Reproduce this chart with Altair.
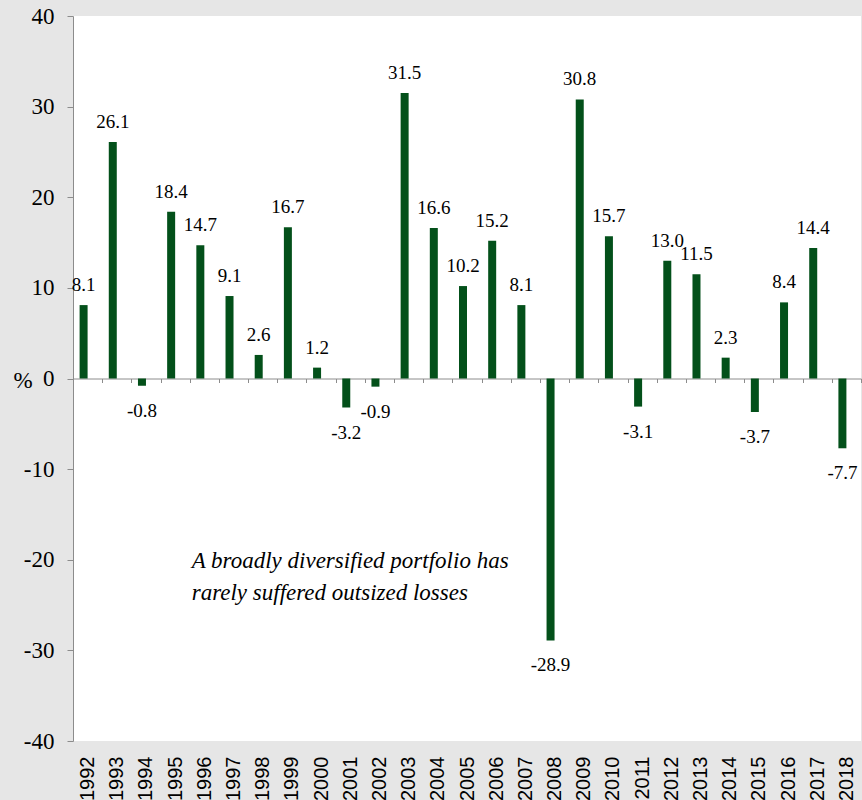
import altair as alt
import pandas as pd

years = [str(y) for y in range(1992, 2019)]
returns = [8.1, 26.1, -0.8, 18.4, 14.7, 9.1, 2.6, 16.7, 1.2, -3.2, -0.9, 31.5,
           16.6, 10.2, 15.2, 8.1, -28.9, 30.8, 15.7, -3.1, 13.0, 11.5, 2.3, -3.7,
           8.4, 14.4, -7.7]
y_ticks = [-40, -30, -20, -10, 0, 10, 20, 30, 40]
note_lines = ["A broadly diversified portfolio has", "rarely suffered outsized losses"]

df = pd.DataFrame({
    "year": years,
    "ret": returns,
    "label": [f"{v:.1f}" for v in returns],
})

GREEN = "#03501a"
GREY = "#8c8c8c"
SERIF = "Liberation Serif"

x_enc = alt.X(
    "year:N", sort=years,
    scale=alt.Scale(paddingInner=0, paddingOuter=0),
    axis=alt.Axis(
        title=None, orient="bottom", offset=-362.5,
        domainColor=GREY, tickColor=GREY, tickSize=4, tickBand="extent",
        labelAngle=-90, labelAlign="right", labelBaseline="middle",
        labelFont="Liberation Sans", labelFontSize=20, labelColor="black",
        labelPadding=373.5, labelOverlap=False,
    ),
)
y_enc = alt.Y(
    "ret:Q",
    scale=alt.Scale(domain=[-40, 40], nice=False),
    axis=alt.Axis(
        values=y_ticks, grid=False, domainColor=GREY, tickColor=GREY, tickSize=6,
        labelFont=SERIF, labelFontSize=23, labelPadding=13, labelColor="black",
        labelExpr="'' + datum.value",
        title="%", titleAngle=0, titleX=-60, titleY=371, titleAlign="left",
        titleBaseline="alphabetic", titleFont=SERIF, titleFontSize=23,
        titleFontWeight="normal", titleColor="black",
    ),
)

base = alt.Chart(df)
bars = base.mark_bar(size=8, xOffset=-4, color=GREEN).encode(x=x_enc, y=y_enc)
pos_lbl = base.transform_filter("datum.ret >= 0").mark_text(
    dx=-4, dy=-14, baseline="alphabetic", align="center",
    font=SERIF, fontSize=19, color="black",
).encode(x=x_enc, y=y_enc, text="label:N")
neg_lbl = base.transform_filter("datum.ret < 0").mark_text(
    dx=-4, dy=31, baseline="alphabetic", align="center",
    font=SERIF, fontSize=19, color="black",
).encode(x=x_enc, y=y_enc, text="label:N")

note = alt.Chart(pd.DataFrame({"k": [0]})).mark_text(
    text=note_lines, align="left", baseline="alphabetic", lineHeight=32,
    font=SERIF, fontStyle="italic", fontSize=23, color="black",
).encode(x=alt.value(118.7), y=alt.value(552))

chart = alt.layer(bars, pos_lbl, neg_lbl, note).properties(
    width=788, height=725,
    autosize=alt.AutoSizeParams(type="none"),
    padding={"left": 73, "top": 16, "right": 1, "bottom": 59},
    background="#e6e6e6",
).configure_view(fill="white", strokeWidth=0)

chart.save("out.html", embed_options={"renderer": "svg", "actions": False})
